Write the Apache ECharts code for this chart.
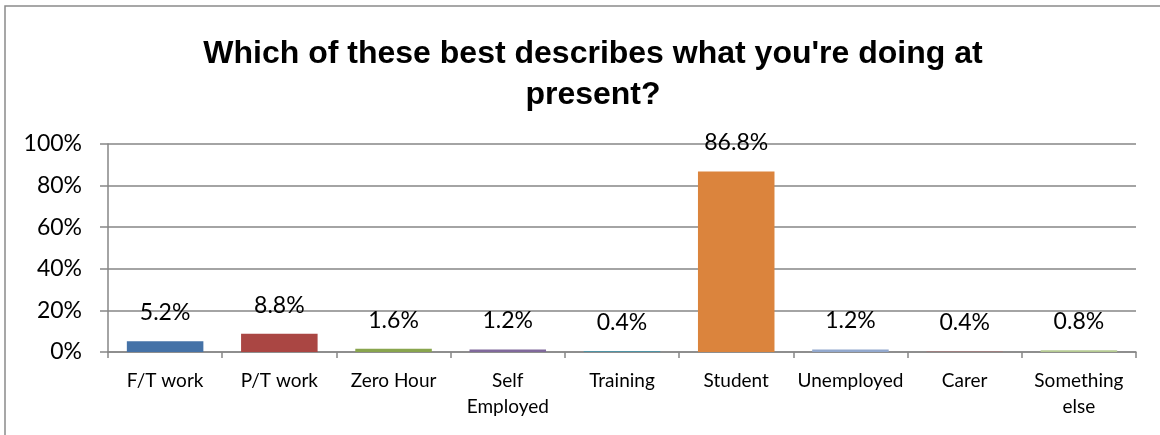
<!DOCTYPE html>
<html>
<head>
<meta charset="utf-8">
<script src="https://cdn.jsdelivr.net/npm/echarts@6/dist/echarts.min.js"></script>
<style>
  html, body { margin: 0; padding: 0; background: #ffffff; }
  #chart { width: 1160px; height: 435px; }
</style>
</head>
<body>
<div id="chart"></div>
<script>
// Survey responses: current activity, share of respondents (%)
const categories = ['F/T work', 'P/T work', 'Zero Hour', 'Self\nEmployed', 'Training', 'Student', 'Unemployed', 'Carer', 'Something\nelse'];
const shares = [5.2, 8.8, 1.6, 1.2, 0.4, 86.8, 1.2, 0.4, 0.8];
const yTicks = [0, 20, 40, 60, 80, 100];

const palette = ['#4572A7', '#AA4643', '#89A54E', '#80699B', '#3D96AE', '#DB843D', '#92A8CD', '#A47D7C', '#B5CA92'];

const chart = echarts.init(document.getElementById('chart'), null, { renderer: 'canvas' });

chart.setOption({
  animation: false,
  color: palette,
  title: {
    text: "Which of these best describes what you're doing at\npresent?",
    left: 588,
    textAlign: 'center',
    top: 29,
    textStyle: {
      fontFamily: 'Liberation Sans, Arial, sans-serif',
      fontSize: 32,
      fontWeight: 'bold',
      color: '#000000',
      lineHeight: 41
    }
  },
  graphic: [{
    type: 'rect',
    shape: { x: 5, y: 6, width: 1200, height: 500 },
    style: { fill: null, stroke: '#8a8a8a', lineWidth: 1.5 },
    silent: true,
    z: 0
  }],
  grid: { left: 108, right: 24, top: 144, bottom: 83 },
  xAxis: {
    type: 'category',
    data: categories,
    axisLine: { lineStyle: { color: '#868686', width: 1.5 } },
    axisTick: { show: true, length: 6, lineStyle: { color: '#868686', width: 1.5 } },
    axisLabel: {
      interval: 0,
      margin: 16,
      fontFamily: 'Lato, sans-serif',
      fontSize: 19,
      lineHeight: 26,
      color: '#000000'
    }
  },
  yAxis: {
    type: 'value',
    min: yTicks[0],
    max: yTicks[yTicks.length - 1],
    interval: 20,
    axisLine: { show: true, lineStyle: { color: '#868686', width: 1.5 } },
    axisTick: { show: true, length: 8, lineStyle: { color: '#868686', width: 1.5 } },
    splitLine: { lineStyle: { color: '#868686', width: 1.5 } },
    axisLabel: {
      margin: 26,
      formatter: '{value}%',
      fontFamily: 'Lato, sans-serif',
      fontSize: 23,
      color: '#000000'
    }
  },
  series: [{
    type: 'bar',
    data: shares,
    colorBy: 'data',
    barCategoryGap: '33%',
    label: {
      show: true,
      position: 'top',
      distance: 17,
      formatter: p => p.value.toFixed(1) + '%',
      fontFamily: 'Lato, sans-serif',
      fontSize: 23,
      color: '#000000'
    }
  }]
});
</script>
</body>
</html>
